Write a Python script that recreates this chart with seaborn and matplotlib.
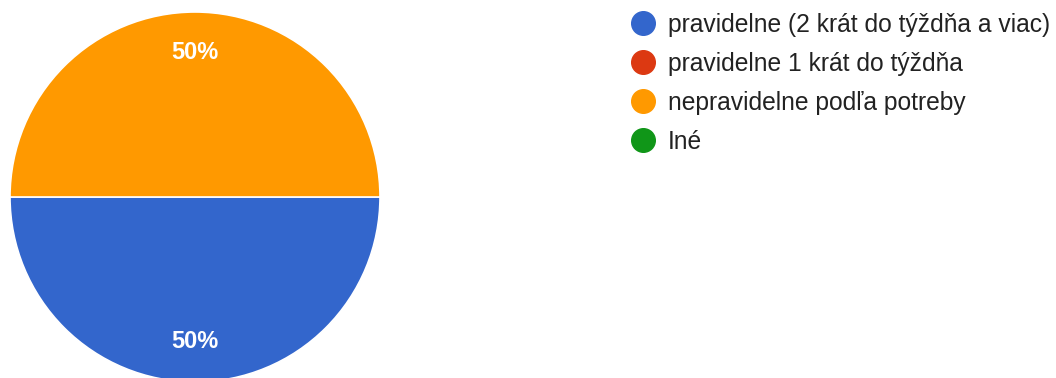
import matplotlib
matplotlib.use("Agg")
import matplotlib.pyplot as plt
import seaborn as sns
from matplotlib.lines import Line2D

categories = ["pravidelne (2 krát do týždňa a viac)", "pravidelne 1 krát do týždňa",
              "nepravidelne podľa potreby", "Iné"]
values = [50, 0, 50, 0]
colors = ["#3366CC", "#DC3912", "#FF9900", "#109618"]

sns.set_theme(style="white")
plt.rcParams['font.family'] = ['Liberation Sans', 'DejaVu Sans']

W, H = 1056, 378
fig = plt.figure(figsize=(W / 100, H / 100), dpi=100)
cx, cy, r = 195, 197, 185
ax = fig.add_axes([(cx - r) / W, (H - cy - r) / H, 2 * r / W, 2 * r / H])

nz = [(v, c) for v, c in zip(values, colors) if v > 0]
wedges, texts, autotexts = ax.pie(
    [v for v, _ in nz], colors=[c for _, c in nz], startangle=180, counterclock=True,
    autopct=lambda p: f"{p:.0f}%", pctdistance=0.78, radius=1,
    wedgeprops=dict(edgecolor="white", linewidth=1.2),
    textprops=dict(color="white", fontsize=17, fontweight="bold"))
ax.set_xlim(-1, 1)
ax.set_ylim(-1, 1)
ax.set_aspect("equal")
ax.axis("off")

handles = [Line2D([0], [0], marker="o", linestyle="", markersize=17,
                  markerfacecolor=c, markeredgecolor=c) for c in colors]
fig.legend(handles, categories, loc="upper left", bbox_to_anchor=(625 / W, 1 - 13 / H),
           frameon=False, fontsize=17.7, labelcolor="#222222", handletextpad=0.25,
           labelspacing=0.61, handlelength=1.5, borderpad=0, borderaxespad=0)

fig.savefig("out.png", dpi=100)
